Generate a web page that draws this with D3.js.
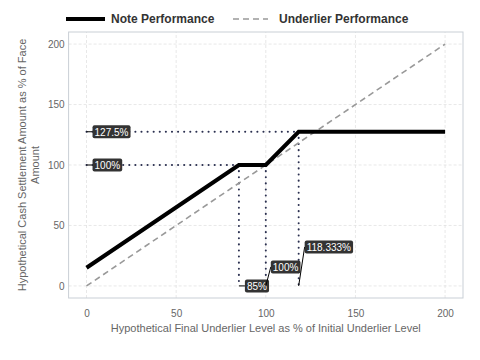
<!DOCTYPE html>
<html>
<head>
<meta charset="utf-8">
<script src="https://cdn.jsdelivr.net/npm/d3@7"></script>
<style>
body { margin: 0; background: #fff; }
text { font-family: "Liberation Sans", Arial, sans-serif; }
</style>
</head>
<body>
<div id="chart"></div>
<script>
"use strict"

// note payoff breakpoints
const noteX = [0, 85, 100, 118.333, 200];
const noteY = [15, 100, 100, 127.5, 127.5];
// underlier line
const underX = [0, 200];
const underY = [0, 200];
const ticks = [0, 50, 100, 150, 200];

// reference guides: horizontal levels and vertical levels
const hLevels = [{y: 127.5, x: 118.333, label: "127.5%"}, {y: 100, x: 100, label: "100%"}];
const vLevels = [{x: 85, y: 100, label: "85%"}, {x: 100, y: 100, label: "100%"},
                 {x: 118.333, y: 127.5, label: "118.333%"}];

const W = 480, H = 360;
const margin = {left: 68.6, right: 17, top: 32, bottom: 62};

const svg = d3.select("#chart").append("svg")
    .attr("width", W).attr("height", H);

const x = d3.scaleLinear().domain([-10, 210]).range([margin.left, W - margin.right]);
const y = d3.scaleLinear().domain([-10, 210]).range([H - margin.bottom, margin.top]);

// grid
const grid = svg.append("g");
ticks.forEach(t => {
    grid.append("line").attr("x1", x(t)).attr("x2", x(t))
        .attr("y1", y(-10)).attr("y2", y(210));
    grid.append("line").attr("y1", y(t)).attr("y2", y(t))
        .attr("x1", x(-10)).attr("x2", x(210));
});
grid.selectAll("line").attr("stroke", "#dedede").attr("stroke-width", 0.7)
    .attr("stroke-dasharray", "3,2");

svg.append("rect").attr("x", x(-10)).attr("y", y(210))
    .attr("width", x(210) - x(-10)).attr("height", y(-10) - y(210))
    .attr("fill", "none").attr("stroke", "#c9cfd6").attr("stroke-width", 1);

// axes
const xAxis = svg.append("g").attr("transform", `translate(0,${y(-10)})`)
    .call(d3.axisBottom(x).tickValues(ticks).tickSize(0).tickPadding(12));
const yAxis = svg.append("g").attr("transform", `translate(${x(-10)},0)`)
    .call(d3.axisLeft(y).tickValues(ticks).tickSize(0).tickPadding(4));
[xAxis, yAxis].forEach(a => {
    a.select(".domain").remove();
    a.selectAll("text").attr("fill", "#666").attr("font-size", 10)
        .style("font-family", "Liberation Sans, Arial, sans-serif");
});

// axis titles
svg.append("text").attr("x", (x(-10) + x(210)) / 2).attr("y", 332)
    .attr("text-anchor", "middle").attr("fill", "#666").attr("font-size", 11)
    .text("Hypothetical Final Underlier Level as % of Initial Underlier Level");
const yt = svg.append("text").attr("transform", `translate(26,${(y(-10) + y(210)) / 2}) rotate(-90)`)
    .attr("text-anchor", "middle").attr("fill", "#666").attr("font-size", 11);
yt.append("tspan").attr("x", 0).attr("dy", 0).text("Hypothetical Cash Settlement Amount as % of Face");
yt.append("tspan").attr("x", 0).attr("dy", 13).text("Amount");

const dotColor = "#2b3050";
// dotted guides
hLevels.forEach(d => {
    svg.append("line").attr("x1", x(0)).attr("x2", x(d.x))
        .attr("y1", y(d.y)).attr("y2", y(d.y))
        .attr("stroke", dotColor).attr("stroke-width", 2)
        .attr("stroke-dasharray", "0.1,6").attr("stroke-linecap", "round");
});
vLevels.forEach(d => {
    svg.append("line").attr("x1", x(d.x)).attr("x2", x(d.x))
        .attr("y1", y(d.y)).attr("y2", y(0))
        .attr("stroke", dotColor).attr("stroke-width", 2)
        .attr("stroke-dasharray", "0.1,6").attr("stroke-linecap", "round");
});

// lines
const line = d3.line().x(d => x(d[0])).y(d => y(d[1]));
svg.append("path").attr("d", line(d3.zip(underX, underY)))
    .attr("fill", "none").attr("stroke", "#999").attr("stroke-width", 1.6)
    .attr("stroke-dasharray", "6,4");
svg.append("path").attr("d", line(d3.zip(noteX, noteY)))
    .attr("fill", "none").attr("stroke", "#000").attr("stroke-width", 4);

// labels with leader lines
function label(px, py, bx, by, txt) {
    const g = svg.append("g");
    const t = g.append("text").attr("x", bx + 2).attr("y", by + 4)
        .attr("font-size", 10).attr("fill", "#fff").text(txt);
    const bb = t.node().getBBox();
    g.insert("rect", "text").attr("x", bb.x - 2).attr("y", by - 6.5)
        .attr("width", bb.width + 4).attr("height", 13).attr("rx", 2)
        .attr("fill", "#333");
    g.insert("line", "rect").attr("x1", px).attr("y1", py).attr("x2", bx).attr("y2", by)
        .attr("stroke", "#000").attr("stroke-width", 1);
}
hLevels.forEach(d => label(x(0), y(d.y), x(0) + 6, y(d.y), d.label));
label(x(85), y(0), x(85) + 6, y(0), vLevels[0].label);
label(x(100), y(0), x(100) + 5, y(0) - 19, vLevels[1].label);
label(x(118.333), y(0), x(118.333) + 6, y(0) - 39, vLevels[2].label);

// legend
const lg = svg.append("g");
lg.append("line").attr("x1", 66).attr("x2", 105).attr("y1", 19).attr("y2", 19)
    .attr("stroke", "#000").attr("stroke-width", 4);
lg.append("text").attr("x", 111).attr("y", 23).attr("font-size", 12)
    .attr("font-weight", "bold").attr("fill", "#333").text("Note Performance");
lg.append("line").attr("x1", 233).attr("x2", 268).attr("y1", 19).attr("y2", 19)
    .attr("stroke", "#999").attr("stroke-width", 1.6).attr("stroke-dasharray", "6,4");
lg.append("text").attr("x", 279).attr("y", 23).attr("font-size", 12)
    .attr("font-weight", "bold").attr("fill", "#333").text("Underlier Performance");
</script>
</body>
</html>
